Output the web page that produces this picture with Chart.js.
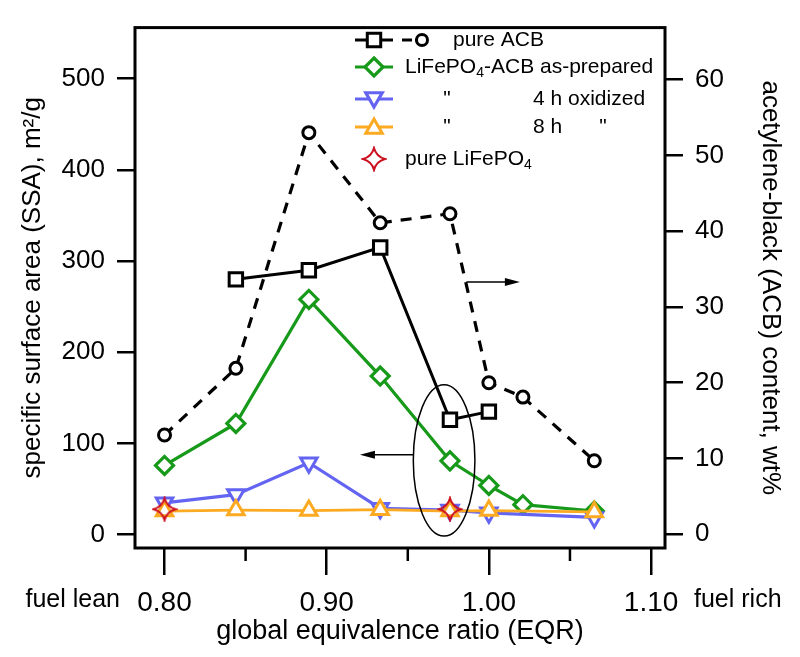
<!DOCTYPE html>
<html><head><meta charset="utf-8">
<script src="https://cdn.jsdelivr.net/npm/chart.js@4/dist/chart.umd.min.js"></script>
<style>html,body{margin:0;padding:0;background:#fff}#wrap{width:800px;height:657px;position:relative}</style>
</head><body><div id="wrap"><canvas id="c"></canvas></div>
<script>
// ---- data ----
const eqr        = [0.800, 0.844, 0.889, 0.933, 0.976, 1.000, 1.021, 1.065];
const acbContent = [13.1, 21.9, 53.0, 41.1, 42.3, 20.0, 18.1, 9.7];      // wt%, right axis
const asPrepared = [76, 122, 258, 174, 81, 54, 33, 26];                  // m2/g
const acbSSA_x   = [0.844, 0.889, 0.933, 0.976, 1.000];
const acbSSA     = [280, 290, 315, 126, 135];                            // m2/g
const ox_x       = [0.800, 0.844, 0.889, 0.933, 0.976, 1.000, 1.065];
const ox4h       = [35, 44, 79, 29, 27, 24, 19];
const ox8h       = [26, 27, 26.5, 27.5, 26, 26.5, 25];
const lfp_x      = [0.800, 0.976];
const lfp        = [28, 28];
const xTicks     = [0.80, 0.90, 1.00, 1.10];
const xMinor     = [0.85, 0.95, 1.05];
const ssaTicks   = [0, 100, 200, 300, 400, 500];
const wtTicks    = [0, 10, 20, 30, 40, 50, 60];
// annotations (data units)
const ellipseAnn = {x: 0.9724, y: 81.5, dx: 0.0190, dy: 83};
const arrowRight = {x1: 0.9862, x2: 1.0191, y: 33.3};   // right axis
const arrowLeft  = {x1: 0.9534, x2: 0.9205, y: 87.7};   // left axis

const FONT = "'Liberation Sans', Arial, Helvetica, sans-serif";
const GREEN = '#17991a', BLUE = '#6464f2', ORANGE = '#fcaa22', RED = '#cc1020';

function pts(xs, ys){ return xs.map((x,i)=>({x, y: ys[i]})); }

// 4-pointed concave star marker
function makeStar(){
  const c = document.createElement('canvas'); c.width = 26; c.height = 26;
  const g = c.getContext('2d'); const cx = 13, cy = 13, R = 11, k = 2.3;
  g.beginPath();
  g.moveTo(cx, cy - R);
  g.quadraticCurveTo(cx + k, cy - k, cx + R, cy);
  g.quadraticCurveTo(cx + k, cy + k, cx, cy + R);
  g.quadraticCurveTo(cx - k, cy + k, cx - R, cy);
  g.quadraticCurveTo(cx - k, cy - k, cx, cy - R);
  g.closePath();
  g.strokeStyle = RED; g.lineWidth = 2; g.stroke();
  return c;
}
const starImg = makeStar();

function drawMarker(ctx, style, x, y, r, color, lw){
  ctx.save();
  ctx.strokeStyle = color; ctx.fillStyle = '#fff'; ctx.lineWidth = lw;
  ctx.beginPath();
  if (style === 'rect'){ const s = r*Math.SQRT1_2; ctx.rect(x-s, y-s, 2*s, 2*s); }
  else if (style === 'circle'){ ctx.arc(x, y, r, 0, Math.PI*2); }
  else if (style === 'diamond'){ ctx.moveTo(x, y-r); ctx.lineTo(x+r, y); ctx.lineTo(x, y+r); ctx.lineTo(x-r, y); ctx.closePath(); }
  else if (style === 'tri'){ ctx.moveTo(x, y-r); ctx.lineTo(x+r*0.866, y+r/2); ctx.lineTo(x-r*0.866, y+r/2); ctx.closePath(); }
  else if (style === 'triDown'){ ctx.moveTo(x, y+r); ctx.lineTo(x+r*0.866, y-r/2); ctx.lineTo(x-r*0.866, y-r/2); ctx.closePath(); }
  ctx.fill(); ctx.stroke();
  ctx.restore();
}

function arrow(ctx, x1, y1, x2, y2){
  ctx.save(); ctx.strokeStyle = '#000'; ctx.fillStyle = '#000'; ctx.lineWidth = 1.5;
  const dir = Math.sign(x2 - x1);
  ctx.beginPath(); ctx.moveTo(x1, y1); ctx.lineTo(x2 - dir*12, y2); ctx.stroke();
  ctx.beginPath(); ctx.moveTo(x2, y2); ctx.lineTo(x2 - dir*15, y2 - 4); ctx.lineTo(x2 - dir*15, y2 + 4); ctx.closePath(); ctx.fill();
  ctx.restore();
}

const extras = {
  id: 'extras',
  afterDraw(chart){
    const ctx = chart.ctx, a = chart.chartArea, xs = chart.scales.x, yl = chart.scales.y, yr = chart.scales.y2;
    ctx.save();
    // frame
    ctx.strokeStyle = '#000'; ctx.lineWidth = 3;
    ctx.strokeRect(a.left, a.top, a.right - a.left, a.bottom - a.top);
    // minor x ticks
    ctx.lineWidth = 2.5;
    xMinor.forEach(v => { const px = xs.getPixelForValue(v); ctx.beginPath(); ctx.moveTo(px, a.bottom); ctx.lineTo(px, a.bottom + 13); ctx.stroke(); });
    // fuel lean / rich
    ctx.fillStyle = '#000'; ctx.font = '25px ' + FONT; ctx.textBaseline = 'middle';
    const ly = 600;
    ctx.textAlign = 'right'; ctx.fillText('fuel lean', 120, ly);
    ctx.textAlign = 'left'; ctx.fillText('fuel rich', 694, ly);
    // ellipse
    const ecx = xs.getPixelForValue(ellipseAnn.x), ecy = yl.getPixelForValue(ellipseAnn.y);
    const erx = xs.getPixelForValue(ellipseAnn.x + ellipseAnn.dx) - ecx;
    const ery = ecy - yl.getPixelForValue(ellipseAnn.y + ellipseAnn.dy);
    ctx.lineWidth = 1.5; ctx.beginPath(); ctx.ellipse(ecx, ecy, erx, ery, 0, 0, Math.PI*2); ctx.stroke();
    // arrows
    arrow(ctx, xs.getPixelForValue(arrowRight.x1), yr.getPixelForValue(arrowRight.y), xs.getPixelForValue(arrowRight.x2), yr.getPixelForValue(arrowRight.y));
    arrow(ctx, xs.getPixelForValue(arrowLeft.x1), yl.getPixelForValue(arrowLeft.y), xs.getPixelForValue(arrowLeft.x2), yl.getPixelForValue(arrowLeft.y));
    // legend
    const L1 = 355, L2 = 393, MX = 374;
    const rows = [40, 67, 99, 127, 159];
    ctx.lineCap = 'butt';
    // row 1
    ctx.strokeStyle = '#000'; ctx.lineWidth = 3;
    ctx.beginPath(); ctx.moveTo(L1, rows[0]); ctx.lineTo(L2, rows[0]); ctx.stroke();
    drawMarker(ctx, 'rect', MX, rows[0], 9.5, '#000', 3);
    ctx.lineWidth = 3;
    ctx.beginPath(); ctx.moveTo(402, rows[0]); ctx.lineTo(412, rows[0]); ctx.moveTo(415, rows[0]); ctx.lineTo(420, rows[0]); ctx.stroke();
    drawMarker(ctx, 'circle', 422, rows[0], 5.5, '#000', 3);
    // rows 2-4
    [[GREEN, 'diamond', 9, 3.2], [BLUE, 'triDown', 9.5, 3.2], [ORANGE, 'tri', 9.5, 3]].forEach((s, i) => {
      const yy = rows[i+1];
      ctx.strokeStyle = s[0]; ctx.lineWidth = s[3];
      ctx.beginPath(); ctx.moveTo(L1, yy); ctx.lineTo(L2, yy); ctx.stroke();
      drawMarker(ctx, s[1], MX, yy + (s[1]==='tri' ? 1.5 : s[1]==='triDown' ? -1.5 : 0), s[2], s[0], s[3]);
    });
    ctx.drawImage(starImg, MX - 13, rows[4] - 13);
    // legend text
    ctx.fillStyle = '#000'; ctx.textAlign = 'left'; ctx.textBaseline = 'middle';
    const F = '21px ' + FONT, FS = '14px ' + FONT;
    function sub(parts, x, y){
      parts.forEach(p => { ctx.font = p[1] ? FS : F; ctx.fillText(p[0], x, y + (p[1] ? 6 : 0)); x += ctx.measureText(p[0]).width; });
    }
    ctx.font = F;
    ctx.fillText('pure ACB', 453, rows[0]);
    sub([['LiFePO', 0], ['4', 1], ['-ACB as-prepared', 0]], 405, rows[1]);
    ctx.font = F; ctx.textAlign = 'center';
    ctx.fillText('"', 447, rows[2]); ctx.fillText('"', 447, rows[3]); ctx.fillText('"', 603, rows[3]);
    ctx.textAlign = 'left';
    ctx.fillText('4 h oxidized', 533, rows[2]);
    ctx.fillText('8 h', 533, rows[3]);
    sub([['pure LiFePO', 0], ['4', 1]], 405, rows[4]);
    ctx.restore();
  }
};

const tickFont = {family: FONT, size: 26};
const xTickFont = {family: FONT, size: 28};
const titleFont = {family: FONT, size: 26};

new Chart(document.getElementById('c'), {
  type: 'line',
  data: {
    datasets: [
      {label: 'pure LiFePO4', data: pts(lfp_x, lfp), showLine: false, pointStyle: starImg, yAxisID: 'y'},
      {label: '8 h', data: pts(ox_x, ox8h), borderColor: ORANGE, borderWidth: 2.8, pointStyle: 'triangle', pointRadius: 9.5, pointBorderWidth: 3, pointBorderColor: ORANGE, pointBackgroundColor: '#fff', yAxisID: 'y'},
      {label: '4 h oxidized', data: pts(ox_x, ox4h), borderColor: BLUE, borderWidth: 3.2, pointStyle: 'triangle', pointRotation: 180, pointRadius: 9.5, pointBorderWidth: 3, pointBorderColor: BLUE, pointBackgroundColor: '#fff', yAxisID: 'y'},
      {label: 'LiFePO4-ACB as-prepared', data: pts(eqr, asPrepared), borderColor: GREEN, borderWidth: 3.2, pointStyle: 'rectRot', pointRadius: 9, pointBorderWidth: 3.2, pointBorderColor: GREEN, pointBackgroundColor: '#fff', yAxisID: 'y'},
      {label: 'pure ACB SSA', data: pts(acbSSA_x, acbSSA), borderColor: '#000', borderWidth: 3, pointStyle: 'rect', pointRadius: 9.5, pointBorderWidth: 3, pointBorderColor: '#000', pointBackgroundColor: '#fff', yAxisID: 'y'},
      {label: 'ACB content', data: pts(eqr, acbContent), borderColor: '#000', borderWidth: 3.2, borderDash: [11, 9], pointStyle: 'circle', pointRadius: 6, pointBorderWidth: 3, pointBorderColor: '#000', pointBackgroundColor: '#fff', yAxisID: 'y2'}
    ]
  },
  options: {
    responsive: true, maintainAspectRatio: false, animation: false,
    layout: {padding: {top: 18, left: 0, right: 0, bottom: 0}},
    plugins: {legend: {display: false}, tooltip: {enabled: false}},
    elements: {line: {tension: 0}},
    scales: {
      x: {
        type: 'linear', min: 0.7818, max: 1.1086,
        afterBuildTicks: s => { s.ticks = xTicks.map(v => ({value: v})); },
        afterFit: s => { s.height = 109; },
        ticks: {font: xTickFont, color: '#000', padding: 11, maxRotation: 0, callback: v => Number(v).toFixed(2)},
        grid: {drawOnChartArea: false, tickLength: 27, color: '#000', lineWidth: 2.5},
        border: {display: false},
        title: {display: true, text: 'global equivalence ratio (EQR)', font: {family: FONT, size: 27}, color: '#000', padding: {top: 0, bottom: 9}}
      },
      y: {
        position: 'left', min: -14.53, max: 556,
        afterBuildTicks: s => { s.ticks = ssaTicks.map(v => ({value: v})); },
        afterFit: s => { s.width = 135; },
        ticks: {font: tickFont, color: '#000', padding: 12},
        grid: {drawOnChartArea: false, tickLength: 18, color: '#000', lineWidth: 2.5},
        border: {display: false},
        title: {display: true, text: 'specific surface area (SSA), m²/g', font: titleFont, color: '#000', padding: {top: 17, bottom: 0}}
      },
      y2: {
        position: 'right', min: -1.81, max: 66.86,
        afterBuildTicks: s => { s.ticks = wtTicks.map(v => ({value: v})); },
        afterFit: s => { s.width = 135; },
        ticks: {font: tickFont, color: '#000', padding: 12},
        grid: {drawOnChartArea: false, tickLength: 18, color: '#000', lineWidth: 2.5},
        border: {display: false},
        title: {display: true, text: 'acetylene-black (ACB) content, wt%', font: titleFont, color: '#000', padding: {top: 14, bottom: 0}}
      }
    }
  },
  plugins: [extras]
});
</script>
</body></html>
